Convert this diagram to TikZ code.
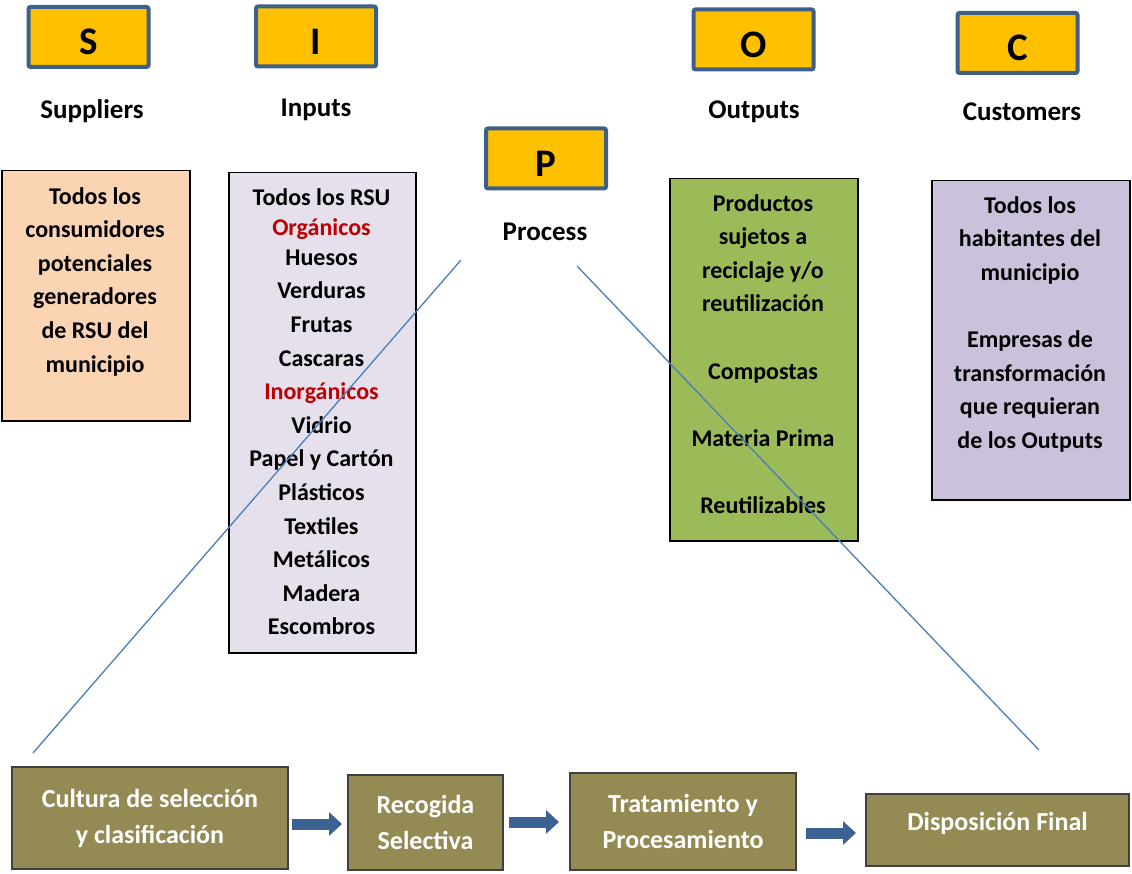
\documentclass[tikz,border=0pt]{standalone}
\usepackage{fontspec}
\setmainfont{Carlito}
\usetikzlibrary{arrows.meta}
\definecolor{letterfill}{HTML}{FFC000}
\definecolor{letterline}{HTML}{3E5F8A}
\definecolor{supfill}{HTML}{FBD4B4}
\definecolor{inpfill}{HTML}{E5E0EC}
\definecolor{outfill}{HTML}{9BBB59}
\definecolor{cusfill}{HTML}{CCC1DA}
\definecolor{stagefill}{HTML}{948A54}
\definecolor{flowblue}{HTML}{3C6293}
\definecolor{rayblue}{HTML}{4A7EBB}
\definecolor{wastered}{HTML}{C00000}

\tikzset{
    letterbox/.style={draw=letterline, fill=letterfill, line width=4pt, rounded corners=2pt,
        minimum width=120pt, minimum height=60pt, text height=36pt, text depth=0pt,
        font=\fontsize{39}{42}\selectfont\bfseries},
    caption/.style={anchor=base, font=\fontsize{27}{30}\selectfont\bfseries},
    panel/.style={draw=black, line width=1.5pt, anchor=north west},
    paneltext/.style={anchor=north, align=center, inner sep=0pt,
        font=\fontsize{24}{33.6}\selectfont\bfseries},
    stage/.style={draw=black!75, line width=2pt, fill=stagefill, text=white, align=center,
        font=\fontsize{26}{36}\selectfont\bfseries},
    flow/.style={draw=flowblue, line width=11pt, -{Triangle[width=23pt,length=13pt]}},
    ray/.style={draw=rayblue, line width=1.3pt}
}

\begin{document}
\begin{tikzpicture}[x=1pt,y=-1pt]
    \useasboundingbox (0,0) rectangle (1132,874);

    % SIPOC letters
    \foreach \name/\letter/\x/\y in {bs/S/88.5/37, bi/I/316/36.5, bo/O/753.5/39.5, bc/C/1017.5/43, bp/P/546/158.5}
        \node[letterbox] (\name) at (\x,\y) {\letter};

    \node[caption] (lsup) at (92,119) {Suppliers};
    \node[caption] (linp) at (316,117) {Inputs};
    \node[caption] (lout) at (754,119) {Outputs};
    \node[caption] (lcus) at (1022,121) {Customers};
    \node[caption] (lpro) at (545,241) {Process};

    % panels
    \node[panel, fill=supfill, minimum width=188pt, minimum height=250pt] (sup) at (1,170) {};
    \node[panel, fill=inpfill, minimum width=187pt, minimum height=480pt] (inp) at (228,172) {};
    \node[panel, fill=outfill, minimum width=188pt, minimum height=362pt] (out) at (669,178) {};
    \node[panel, fill=cusfill, minimum width=198pt, minimum height=319pt] (cus) at (931,180) {};

    \node[paneltext] (suptxt) at (95,187) {Todos los\\consumidores\\potenciales\\generadores\\de RSU del\\municipio};
    \node[paneltext] (inptxt) at (321.5,188) {Todos los RSU\\[-3pt]
        \textcolor{wastered}{Orgánicos}\\[-4pt]
        Huesos\\Verduras\\Frutas\\Cascaras\\
        \textcolor{wastered}{Inorgánicos}\\
        Vidrio\\Papel y Cartón\\Plásticos\\Textiles\\Metálicos\\Madera\\Escombros};
    \node[paneltext] (outtxt) at (763,194) {Productos\\sujetos a\\reciclaje y/o\\reutilización\\[33.6pt]
        Compostas\\[33.6pt]Materia Prima\\[33.6pt]Reutilizables};
    \node[paneltext] (custxt) at (1030,196) {Todos los\\habitantes del\\municipio\\[33.6pt]
        Empresas de\\transformación\\que requieran\\de los Outputs};

    % process stages
    \node[stage, minimum width=276pt, minimum height=102pt] (st1) at (150,818) {Cultura de selección\\y clasificación};
    \node[stage, minimum width=155pt, minimum height=95pt] (st2) at (425.5,822.5) {Recogida\\Selectiva};
    \node[stage, minimum width=226pt, minimum height=97pt] (st3) at (683,821.5) {Tratamiento y\\Procesamiento};
    \node[stage, minimum width=263pt, minimum height=72pt, text depth=17pt] (st4) at (997.5,830) {Disposición Final};

    \draw[flow] ([xshift=3pt]st1.east |- 0,824) -- ([xshift=-5pt]st2.west |- 0,824);
    \draw[flow] ([xshift=5pt]st2.east |- 0,822) -- ([xshift=-10pt]st3.west |- 0,822);
    \draw[flow] ([xshift=9pt]st3.east |- 0,833) -- ([xshift=-9pt]st4.west |- 0,833);

    % expansion of P
    \coordinate (rayLtop) at (461,260);
    \coordinate (rayLbot) at (33,753);
    \coordinate (rayRtop) at (577,266);
    \coordinate (rayRbot) at (1039,750);
    \draw[ray] (rayLtop) -- (rayLbot);
    \draw[ray] (rayRtop) -- (rayRbot);
\end{tikzpicture}
\end{document}
